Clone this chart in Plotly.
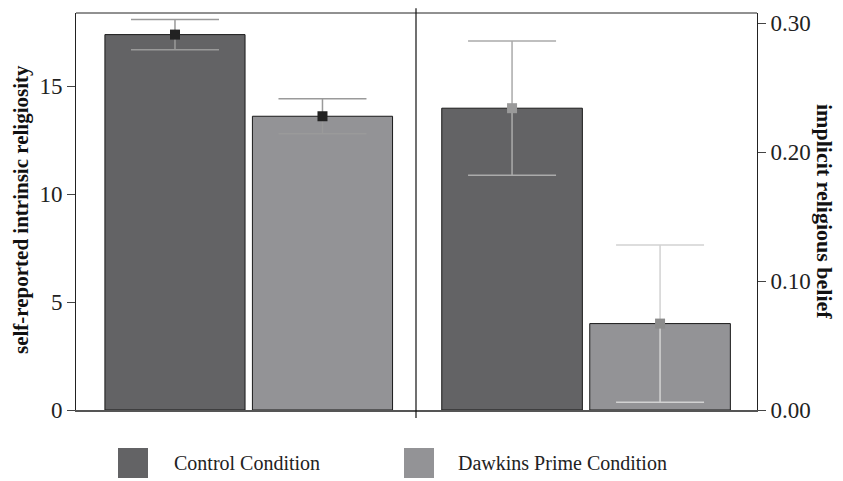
import plotly.graph_objects as go

conditions = ["Control Condition", "Dawkins Prime Condition"]
bar_colors = ["#636365", "#939396"]

intrinsic_mean = [17.38, 13.6]
intrinsic_err = [0.7, 0.81]

implicit_mean = [0.234, 0.067]
implicit_err = [0.052, 0.061]

left_ticks = [0, 5, 10, 15]
right_ticks = [0.0, 0.1, 0.2, 0.3]
right_ticktext = ["0.00", "0.10", "0.20", "0.30"]

left_marker_colors = ["#222222", "#222222"]
left_err_colors = ["#9a9a9a", "#9a9a9a"]
right_marker_colors = ["#9a9a9a", "#8c8c8c"]
right_err_colors = ["#ababab", "#d2d2d2"]

FONT = "Liberation Serif"
pos = [0, 1]
split = 340 / 681

# page offset: browser body margin of 8px
OFF = 8

def px_x(px):
    return (px - 76) / 681

def px_y(py):
    return (410 - py) / 397

fig = go.Figure()

fig.add_trace(go.Bar(x=pos, y=intrinsic_mean, width=0.95, marker=dict(color=bar_colors, line=dict(color="#1a1a1a", width=1)),
                     xaxis="x", yaxis="y", showlegend=False, hoverinfo="skip"))
fig.add_trace(go.Bar(x=pos, y=implicit_mean, width=0.95, marker=dict(color=bar_colors, line=dict(color="#1a1a1a", width=1)),
                     xaxis="x2", yaxis="y2", showlegend=False, hoverinfo="skip"))

for i in range(2):
    fig.add_trace(go.Scatter(x=[pos[i]], y=[intrinsic_mean[i]], mode="markers",
                             marker=dict(symbol="square", size=10, color=left_marker_colors[i]),
                             error_y=dict(type="data", array=[intrinsic_err[i]], color=left_err_colors[i], thickness=1.5, width=44),
                             xaxis="x", yaxis="y", showlegend=False))
    fig.add_trace(go.Scatter(x=[pos[i]], y=[implicit_mean[i]], mode="markers",
                             marker=dict(symbol="square", size=10, color=right_marker_colors[i]),
                             error_y=dict(type="data", array=[implicit_err[i]], color=right_err_colors[i], thickness=1.5, width=44),
                             xaxis="x2", yaxis="y2", showlegend=False))

axis_font = dict(family=FONT, size=23, color="#222")

fig.update_layout(
    width=843 - OFF, height=481 - OFF,
    margin=dict(l=76 - OFF, r=86, t=13 - OFF, b=71, autoexpand=False),
    plot_bgcolor="white", paper_bgcolor="white",
    font=dict(family=FONT, color="#222"),
    xaxis=dict(domain=[0, split], range=[-0.671, 1.634], showticklabels=False, ticks="",
               showgrid=False, zeroline=False, showline=True, linecolor="#555", linewidth=2, anchor="y"),
    xaxis2=dict(domain=[split, 1], range=[-0.649, 1.655], showticklabels=False, ticks="",
                showgrid=False, zeroline=False, showline=True, linecolor="#555", linewidth=2, anchor="y2"),
    yaxis=dict(range=[0, 18.38], tickvals=left_ticks, ticks="outside", ticklen=8, tickcolor="#444",
               showgrid=False, zeroline=False, showline=True, linecolor="#222", linewidth=1,
               tickfont=axis_font, anchor="x", side="left"),
    yaxis2=dict(range=[0, 0.3078], tickvals=right_ticks, ticktext=right_ticktext, ticks="outside", ticklen=8,
                tickcolor="#444", showgrid=False, zeroline=False, showline=True, linecolor="#222", linewidth=1,
                tickfont=axis_font, anchor="x2", side="right"),
    shapes=[
        dict(type="line", xref="paper", yref="paper", x0=0, x1=1, y0=1, y1=1, line=dict(color="#222", width=1)),
        dict(type="line", xref="paper", yref="paper", x0=split, x1=split, y0=px_y(418), y1=1.012,
             line=dict(color="#111", width=1.2)),
        dict(type="rect", xref="paper", yref="paper", x0=px_x(118), x1=px_x(148),
             y0=px_y(478), y1=px_y(448), fillcolor=bar_colors[0], line=dict(width=0)),
        dict(type="rect", xref="paper", yref="paper", x0=px_x(404), x1=px_x(434),
             y0=px_y(478), y1=px_y(448), fillcolor=bar_colors[1], line=dict(width=0)),
    ],
    annotations=[
        dict(text="<b>self-reported intrinsic religiosity</b>", xref="paper", yref="paper",
             x=px_x(21), y=px_y(210), textangle=-90, showarrow=False, xanchor="center", yanchor="middle",
             font=dict(family=FONT, size=21, color="#111")),
        dict(text="<b>implicit religious belief</b>", xref="paper", yref="paper",
             x=px_x(824), y=px_y(211), textangle=90, showarrow=False, xanchor="center", yanchor="middle",
             font=dict(family=FONT, size=22, color="#111")),
        dict(text=conditions[0], xref="paper", yref="paper", x=px_x(172), y=px_y(463),
             xanchor="left", yanchor="middle", showarrow=False, font=dict(family=FONT, size=20, color="#222")),
        dict(text=conditions[1], xref="paper", yref="paper", x=px_x(456), y=px_y(463),
             xanchor="left", yanchor="middle", showarrow=False, font=dict(family=FONT, size=20, color="#222")),
    ],
)

fig.write_html("out.html")
